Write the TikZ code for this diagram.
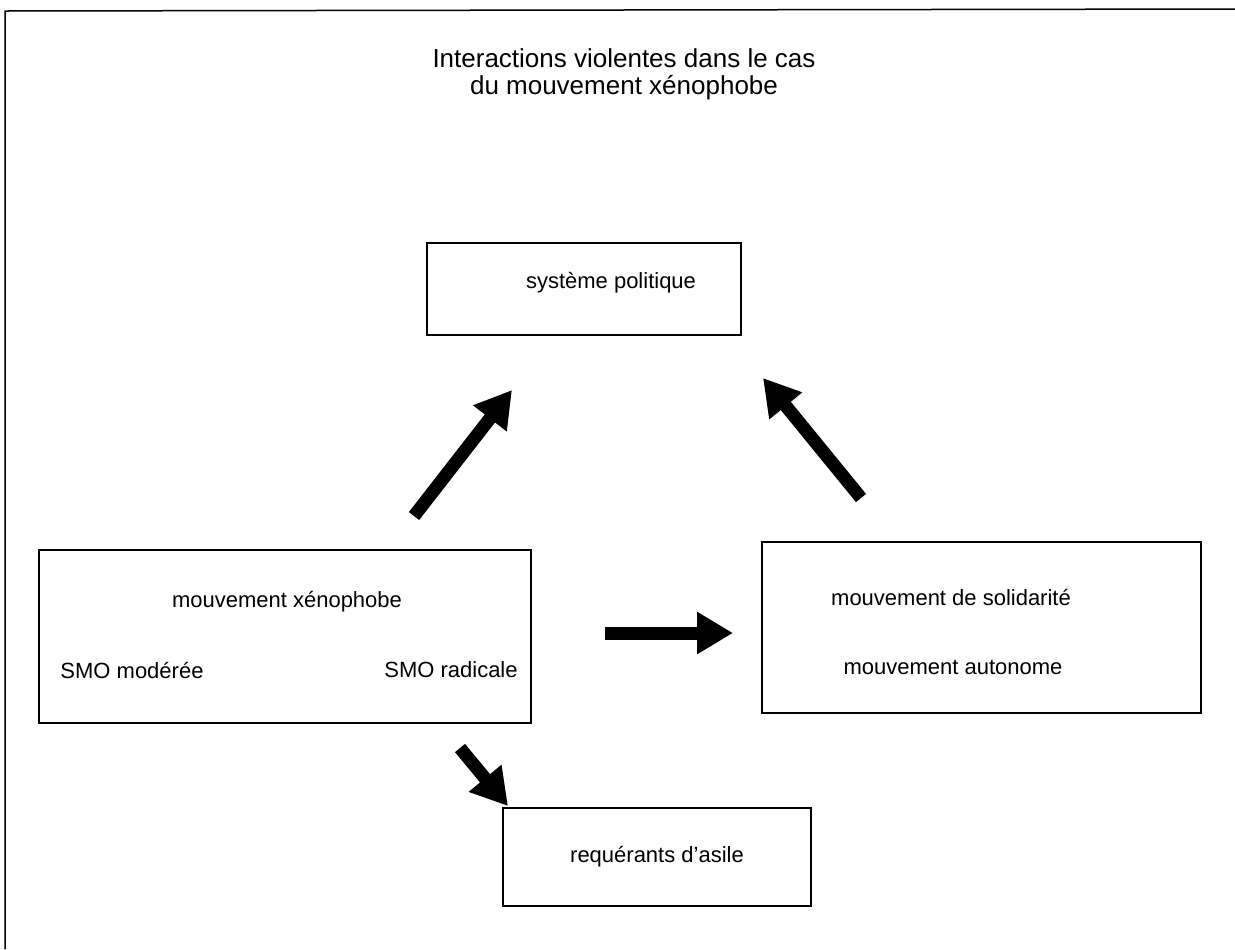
\documentclass[tikz,border=0pt]{standalone}
\usepackage{fontspec}
\setmainfont{Liberation Sans}
\usetikzlibrary{arrows.meta}

\begin{document}
\begin{tikzpicture}[x=0.5pt,y=-0.5pt,line width=.75pt,
  box/.style={draw,rectangle,inner sep=0pt},
  lbl/.style={inner sep=0pt,font=\fontsize{11}{13}\selectfont},
  bigarrow/.style={line width=6.5pt,-{Triangle[length=18pt,width=20pt]}}]
\path[use as bounding box] (0,0) rectangle (1235,949);
% frame
\draw (5,949) -- (5,11) -- (1235,9);
\node[inner sep=0pt,align=center,font=\fontsize{13}{13.5}\selectfont] (title) at (624,74) {Interactions violentes dans le cas\\du mouvement xénophobe};
% boxes
\node[box,minimum width=157pt,minimum height=46pt] (pol) at (584,289) {};
\node[lbl] (polt) at (611,283) {système politique};
\node[box,minimum width=246pt,minimum height=86.5pt] (xeno) at (285,636.5) {};
\node[lbl] (xenot) at (287,602) {mouvement xénophobe};
\node[lbl] (smom) at (132,670) {SMO modérée};
\node[lbl] (smor) at (451,670) {SMO radicale};
\node[box,minimum width=219.5pt,minimum height=85.5pt] (sol) at (981.5,627.5) {};
\node[lbl] (solt) at (951,597) {mouvement de solidarité};
\node[lbl] (auto) at (953,667) {mouvement autonome};
\node[box,minimum width=154pt,minimum height=49pt] (req) at (657,857) {};
\node[lbl] (reqt) at (657,857) {requérants d'asile};
% arrows
\coordinate (a1s) at (414,516);
\coordinate (a1e) at (512,390);
\coordinate (a2s) at (861,498);
\coordinate (a2e) at (763,378);
\coordinate (a3s) at (605,633);
\coordinate (a3e) at (733,633);
\coordinate (a4s) at (460,748);
\coordinate (a4e) at (508,806);
\draw[bigarrow] (a1s) -- (a1e);
\draw[bigarrow] (a2s) -- (a2e);
\draw[bigarrow] (a3s) -- (a3e);
\draw[bigarrow] (a4s) -- (a4e);
\end{tikzpicture}
\end{document}
